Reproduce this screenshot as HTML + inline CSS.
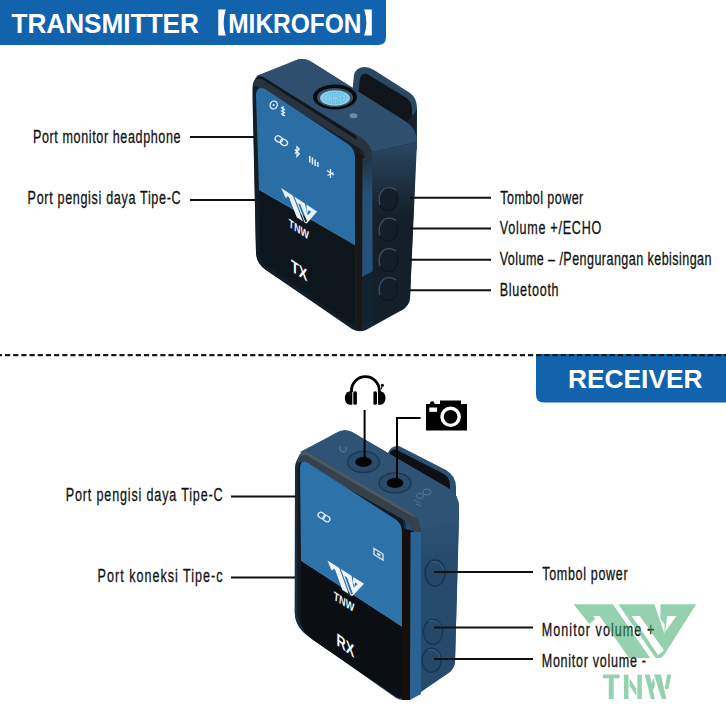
<!DOCTYPE html>
<html><head><meta charset="utf-8">
<style>
html,body{margin:0;padding:0;background:#fff;width:726px;height:726px;overflow:hidden}
svg{display:block}
.lb{font-family:"Liberation Sans",sans-serif;font-size:18.5px;fill:#111;stroke:#111;stroke-width:0.3}
.bn{font-family:"Liberation Sans",sans-serif;font-weight:bold;fill:#fff}
</style></head><body>
<svg width="726" height="726" viewBox="0 0 726 726">
<defs>
<linearGradient id="stripg" x1="0" y1="156" x2="0" y2="195" gradientUnits="userSpaceOnUse"><stop offset="0" stop-color="#1e3245"/><stop offset="1" stop-color="#24527a"/></linearGradient>
<linearGradient id="sidegr" x1="0" y1="515" x2="0" y2="560" gradientUnits="userSpaceOnUse"><stop offset="0" stop-color="#2e5374"/><stop offset="1" stop-color="#264a6b"/></linearGradient>
<linearGradient id="sideg" x1="0" y1="142" x2="0" y2="215" gradientUnits="userSpaceOnUse"><stop offset="0" stop-color="#2a4763"/><stop offset="1" stop-color="#151f2a"/></linearGradient>
<mask id="lgm" maskUnits="userSpaceOnUse" x="-10" y="-10" width="140" height="110">
<rect x="-10" y="-10" width="140" height="110" fill="#fff"/>
<g fill="#000">
<path d="M34.9 -6.3L40.3 -6.3L82.1 53.7L76.7 53.7Z"/>
<path d="M19.7 11.7L25.9 11.7L55.4 53.7L49.1 53.7Z"/>
<path d="M-3.6 15.7L13.4 21.2L25.9 11.7L56.4 57.7L-13.6 57.7Z"/>
<path d="M58.2 11.7L66.2 11.7L90.4 46.2L84.4 50.7Z"/>
<path d="M78.8 -6.3L86.8 -6.3L86.8 14.7L90.9 19.7L90.9 29.7Z"/>
<path d="M93.7 11.7L102.8 11.7L91.6 27.5Z"/>
</g>
</mask>
<g id="logo"><path d="M0 0H122.6L90.8 50.2L87.4 53.7H42.9Z" mask="url(#lgm)"/></g>
</defs>
<!-- top banner -->
<path d="M0 0H386V37Q386 45 378 45H0Z" fill="#1263ae"/>
<text class="bn" x="11.4" y="32.8" font-size="28" textLength="187.6" lengthAdjust="spacingAndGlyphs">TRANSMITTER</text>
<path d="M218.3 9.4H225.8Q221.5 22.4 225.8 35.4H218.3Z" fill="#fff"/>
<text class="bn" x="228.2" y="32.8" font-size="27" textLength="133.3" lengthAdjust="spacingAndGlyphs">MIKROFON</text>
<path d="M371.8 9.4H364.2Q368.5 22.4 364.2 35.4H371.8Z" fill="#fff"/>

<!-- TX DEVICE -->
<g id="tx">
<!-- clip -->
<path d="M352 95L354 75Q356 67 365 67Q369 67 374 70L410 93Q417 98 417 108L417 150L352 112Z" fill="#2b4762"/>
<path d="M358 95L360 79Q361 73 367 74L405 97Q412 101 412 109L412 138L358 104Z" fill="#0f151b"/>
<!-- body silhouette -->
<path d="M253 98L253 91Q253 82 261 78L294 61Q302 57 310 61L407 122L417 110L416 150L410 298Q409 306 402 310L366 330Q359 333 352 329L266 270Q256 263 256 252Z" fill="#17222e"/>
<!-- top face -->
<path d="M256 76L294 61Q302 57 310 61L405 121Q417 128 417 142L372 152Q362 143 352 135Z" fill="#2e4f6e"/>
<!-- front bezel -->
<path d="M252.5 98L252.5 88Q253 76 262 78L352 134Q360 139 360 152L361 322Q361 333 351 327L266 270Q256 263 256 252Z" fill="#131d26"/>
<!-- bevel band -->
<path d="M253 86Q254 75 263 77L357 135Q373 144 373 158L365 158Q365 150 356 146L256 86Z" fill="#28343d"/>
<path d="M255 79Q257 75 263 77L352 133Q357 136 357 140L351 136L262 79Z" fill="#0f171e"/>
<!-- screen blue -->
<path d="M256 96Q256 85 265 89L348 144Q355 149 355 158L355 245L259 190Z" fill="#2b6da5"/>
<!-- lower dark -->
<path d="M259 190L355 245L355 319Q355 326 348 322L270 268Q260 262 260 252Z" fill="#0e161d"/>
<path d="M260 190L355 245" stroke="#5a8fb8" stroke-width="0.8" opacity="0.6"/>
<!-- side bevel strips -->
<path d="M355 152L364 156L362 328L358 330Z" fill="#1d1714"/>
<path d="M362.5 158L373 158L373 322L362 328Z" fill="url(#stripg)"/>
<path d="M362 277L373 271L373 322L362 328Z" fill="#13222f"/>
<!-- right side face -->
<path d="M372 152L417 142L410 298Q409 306 402 310L373 324Z" fill="url(#sideg)"/>
<!-- mic button -->
<ellipse cx="335" cy="97" rx="22" ry="12.5" fill="#080b0e"/>
<ellipse cx="335" cy="97.5" rx="18" ry="9.6" fill="#3a5063"/>
<ellipse cx="335" cy="98" rx="15" ry="7.8" fill="#86d0ee"/>
<g fill="none" stroke="#4f9ac4" stroke-width="1" stroke-dasharray="1 1.2">
<ellipse cx="335" cy="98" rx="11" ry="5.6"/>
<ellipse cx="335" cy="98" rx="7.5" ry="3.8"/>
<ellipse cx="335" cy="98" rx="4" ry="2"/>
</g>
<ellipse cx="353.5" cy="115.8" rx="4" ry="2.5" fill="#6d8ca5"/>
<!-- buttons -->
<ellipse cx="388.5" cy="199" rx="10" ry="12" fill="#141e29"/>
<path d="M380 205Q377 195 384 189Q390 186 396 190" fill="none" stroke="#34536f" stroke-width="1.3"/>
<path d="M397 193Q400 204 392 210Q385 212 380 206" fill="none" stroke="#0e1720" stroke-width="1.3"/>
<ellipse cx="388.5" cy="229.5" rx="10" ry="12" fill="#141e29"/>
<path d="M380 235.5Q377 225.5 384 219.5Q390 216.5 396 220.5" fill="none" stroke="#34536f" stroke-width="1.3"/>
<path d="M397 223.5Q400 234.5 392 240.5Q385 242.5 380 236.5" fill="none" stroke="#0e1720" stroke-width="1.3"/>
<ellipse cx="388.5" cy="260" rx="10" ry="12" fill="#141e29"/>
<path d="M380 266Q377 256 384 250Q390 247 396 251" fill="none" stroke="#34536f" stroke-width="1.3"/>
<path d="M397 254Q400 265 392 271Q385 273 380 267" fill="none" stroke="#0e1720" stroke-width="1.3"/>
<ellipse cx="388.5" cy="289" rx="10" ry="12" fill="#141e29"/>
<path d="M380 295Q377 285 384 279Q390 276 396 280" fill="none" stroke="#34536f" stroke-width="1.3"/>
<path d="M397 283Q400 294 392 300Q385 302 380 296" fill="none" stroke="#0e1720" stroke-width="1.3"/>
<!-- screen icons -->
<g fill="none" stroke="#e6f2fa" stroke-width="1.3">
<ellipse cx="273.7" cy="105" rx="3.5" ry="4" transform="rotate(25 273.7 105)"/>
<g transform="translate(281.3 140.7) rotate(33)"><rect x="-6.8" y="-2.8" width="7.6" height="5.6" rx="2.8"/><rect x="-0.8" y="-2.8" width="7.6" height="5.6" rx="2.8"/></g>
<path d="M294.8 149.5L299.3 153.8L297 156.3V146.8L299.3 149.3L294.8 153.6"/>
<path d="M281 107.5l4 2.5M281 110.5l4 2.5M281 113.5l4 2.5M283 106v10"/>
<path d="M327 170.5l7 4.5M330.5 169v9M327.5 175.5l6-3"/>
</g>
<g fill="#e6f2fa">
<circle cx="273.7" cy="105" r="1.1"/>
<rect x="309" y="156" width="1.5" height="6.5"/><rect x="311.7" y="157.5" width="1.5" height="7"/><rect x="314.4" y="159.5" width="1.5" height="6.5"/><rect x="317.1" y="162" width="1.5" height="5"/>
</g>
<!-- logo -->
<g transform="matrix(0.2928 0.1917 -0.0117 0.3526 281.2 187.9)" fill="#e8f2f9">
<use href="#logo"/>
<text x="28.8" y="94.2" font-family="Liberation Sans" font-weight="bold" font-size="33" textLength="69" lengthAdjust="spacingAndGlyphs">TNW</text>
</g>
<g transform="matrix(0.75 0.5 0 1 291 258.3)"><text x="0" y="12.5" font-family="Liberation Sans" font-weight="bold" font-size="17" fill="#fff">TX</text></g>
</g>

<!-- TX lines -->
<g stroke="#111" stroke-width="2">
<line x1="190" y1="137" x2="254" y2="137"/>
<line x1="190" y1="200" x2="255" y2="200"/>
<line x1="410" y1="197.8" x2="491" y2="197.8"/>
<line x1="410" y1="228.6" x2="491" y2="228.6"/>
<line x1="410" y1="259.7" x2="491" y2="259.7"/>
<line x1="409" y1="290.3" x2="491" y2="290.3"/>
</g>
<text class="lb" transform="scale(0.68 1)" x="48.53" y="142.7" textLength="216.92" lengthAdjust="spacing">Port monitor headphone</text>
<text class="lb" transform="scale(0.68 1)" x="40.59" y="204.5" textLength="225.00" lengthAdjust="spacing">Port pengisi daya Tipe-C</text>
<text class="lb" transform="scale(0.68 1)" x="735.74" y="203.8" textLength="122.06" lengthAdjust="spacing">Tombol power</text>
<text class="lb" transform="scale(0.68 1)" x="734.85" y="234" textLength="149.41" lengthAdjust="spacing">Volume +/ECHO</text>
<text class="lb" transform="scale(0.68 1)" x="734.85" y="265.4" textLength="311.47" lengthAdjust="spacing">Volume – /Pengurangan kebisingan</text>
<text class="lb" transform="scale(0.68 1)" x="734.85" y="296" textLength="86.62" lengthAdjust="spacing">Bluetooth</text>

<!-- dashed line -->


<!-- receiver banner -->
<path d="M536 354H726V402.5H544Q536 402.5 536 394.5Z" fill="#1263ae"/>
<text class="bn" x="568" y="388.4" font-size="26.5" textLength="134.5" lengthAdjust="spacingAndGlyphs">RECEIVER</text>

<line x1="0" y1="355.1" x2="726" y2="355.1" stroke="#1a1a1a" stroke-width="2.2" stroke-dasharray="5.2 2.972" stroke-dashoffset="3.172"/>
<!-- RX DEVICE -->
<g id="rx">
<!-- clip -->
<path d="M386 470L388 453Q391 445 399 446L446 470Q456 476 456 487L456 512L386 474Z" fill="#2c5070"/>
<path d="M388.5 458Q389 449 396 449.5L443 473.5Q450 477.5 450 485L450 497L389 463Z" fill="#0c1015"/>
<!-- body silhouette -->
<path d="M294.8 612L295 468Q295.5 457 305 452L336 433Q344 428 352 432L448 488Q459 494 459 508L455 662Q454 670 447 674L410 698Q403 702 396 698L311 638Q294.8 628 294.8 612Z" fill="#264a6b"/>
<!-- top face -->
<path d="M300 452L336 433Q344 428 352 432L448 488Q459 494 459 508L459 520L421 530Q418 518 404 513Z" fill="#2e5374"/>
<!-- front bezel -->
<path d="M294.8 612L295 468Q295.5 457 305 457L398 512Q406 517 406 528L406 692Q406 703 396 697L311 638Q294.8 628 294.8 612Z" fill="#1b2b3a"/>
<path d="M297.5 612L297.5 470Q298 460 306 460L398 514Q404 518 404 528L404 692Q404 700 396 695L312 636Q297.5 627 297.5 612Z" fill="#111921"/>
<!-- bevel band -->
<path d="M297 463Q298 451 307 452L407 510Q421 518 421 532L413 532Q413 524 404 520L300 462Z" fill="#34414b"/>
<path d="M299 456Q301 451 307 452L407 510Q413 513 416 518L406 513L306 455Z" fill="#4a5963"/>
<!-- screen blue -->
<path d="M300 469Q300 459 308 463L395 519Q402 523 402 533L402 627L301 561Z" fill="#2e72aa"/>
<!-- lower dark -->
<path d="M301 561L402 627L402 694Q402 700 395 696L313 640Q301 632 301 618Z" fill="#0b0f14"/>
<path d="M301 560L402 626" stroke="#4a7fa8" stroke-width="0.8" opacity="0.6"/>
<!-- side strips -->
<path d="M402 528L413 531L410 700L402 700Z" fill="#140e0c"/>
<path d="M410.5 532L421 532L421 694L410 700Z" fill="#2b6294"/>
<!-- right side face -->
<path d="M421 530L459 520L455 662Q454 670 447 674L421 692Z" fill="url(#sidegr)"/>
<!-- top holes -->
<ellipse cx="363.5" cy="462" rx="16" ry="10.5" fill="#2a4b6b" stroke="#1d3852" stroke-width="1.5"/>
<ellipse cx="363.5" cy="462" rx="8.3" ry="5" fill="#030507"/>
<ellipse cx="395" cy="483" rx="16" ry="10" fill="#2a4b6b" stroke="#1d3852" stroke-width="1.5"/>
<ellipse cx="395" cy="483" rx="8.3" ry="5" fill="#030507"/>
<path d="M340 446Q339 451 343 452Q347 452 346 447" fill="none" stroke="#5d86a8" stroke-width="1"/>
<g fill="none" stroke="#4f7898" stroke-width="1">
<ellipse cx="427" cy="492" rx="4" ry="3"/><ellipse cx="420" cy="496" rx="3.5" ry="2.6"/><path d="M414 500l6 3M416 504l5 2"/>
</g>
<!-- buttons -->
<g fill="#254868" stroke="#1a3450" stroke-width="1.5">
<ellipse cx="435" cy="573" rx="10" ry="13"/>
<ellipse cx="433" cy="632" rx="9.6" ry="12.4"/>
<ellipse cx="431.6" cy="660.3" rx="9.6" ry="12"/>
</g>
<g fill="none" stroke="#3b6485" stroke-width="1">
<path d="M431 562Q441 560 444 570"/><path d="M429 621Q439 619 442 629"/><path d="M428 650Q437 648 440 657"/>
</g>
<!-- icons -->
<g fill="none" stroke="#dbeaf6" stroke-width="1.3">
<g transform="translate(324 517) rotate(33)"><rect x="-6.5" y="-2.7" width="7.3" height="5.4" rx="2.7"/><rect x="-0.8" y="-2.7" width="7.3" height="5.4" rx="2.7"/></g>
<path d="M374 548.5L383 554L383 560L374 554.5Z"/>
</g>
<path d="M377 552.5L380.5 554.6V556.6L377 554.5Z" fill="#dbeaf6"/>
<!-- logo -->
<g transform="matrix(0.2977 0.1884 -0.0305 0.3524 327.5 560.6)" fill="#eef4f9">
<use href="#logo"/>
<text x="28.8" y="94.2" font-family="Liberation Sans" font-weight="bold" font-size="33" textLength="69" lengthAdjust="spacingAndGlyphs">TNW</text>
</g>
<g transform="matrix(0.72 0.53 0 1 336.5 632)"><text x="0" y="12.8" font-family="Liberation Sans" font-weight="bold" font-size="17.8" fill="#fff">RX</text></g>
</g>


<!-- headphone & camera icons -->
<g fill="#000">
<path d="M351.5 392V390.5A13.9 13.9 0 0 1 379.3 390.5V392" fill="none" stroke="#000" stroke-width="2.8"/>
<path d="M352.3 391.3H349.5Q344.8 393 344.8 398Q344.8 403.5 349.5 404.8H352.3Z"/>
<rect x="353.3" y="391.3" width="3.6" height="13.5" rx="1.6"/>
<path d="M378 391.3H380.8Q385.5 393 385.5 398Q385.5 403.5 380.8 404.8H378Z"/>
<rect x="373.4" y="391.3" width="3.6" height="13.5" rx="1.6"/>
<circle cx="382.4" cy="385.3" r="1.5"/>
<path d="M382.3 386L381 389.5" stroke="#000" stroke-width="1"/>
<rect x="426" y="404" width="41" height="26.5"/>
<rect x="440" y="400.5" width="21" height="5"/>
<circle cx="432.2" cy="403.5" r="2.3"/>
</g>
<circle cx="450.6" cy="416.8" r="8.6" fill="none" stroke="#fff" stroke-width="3.4"/>
<rect x="429.3" y="407.5" width="7.8" height="4.3" fill="#fff"/>
<g stroke="#000" stroke-width="2" fill="none">
<line x1="364.6" y1="410" x2="364.6" y2="462"/>
<path d="M420.5 418H397V483"/>
</g>
<!-- RX lines -->
<g stroke="#111" stroke-width="2">
<line x1="231" y1="496.4" x2="296" y2="496.4"/>
<line x1="231" y1="577.4" x2="295" y2="577.4"/>
<line x1="434" y1="572" x2="533" y2="572"/>
<line x1="434" y1="627.6" x2="533" y2="627.6"/>
<line x1="434" y1="659" x2="533" y2="659"/>
</g>
<text class="lb" transform="scale(0.68 1)" x="96.76" y="501.3" textLength="230.59" lengthAdjust="spacing">Port pengisi daya Tipe-C</text>
<text class="lb" transform="scale(0.68 1)" x="143.53" y="582.3" textLength="183.82" lengthAdjust="spacing">Port koneksi Tipe-c</text>
<text class="lb" transform="scale(0.68 1)" x="797.36" y="580.4" textLength="125.59" lengthAdjust="spacing">Tombol power</text>
<text class="lb" transform="scale(0.68 1)" x="796.62" y="636.4" textLength="165.59" lengthAdjust="spacing">Monitor volume +</text>
<text class="lb" transform="scale(0.68 1)" x="796.62" y="666.8" textLength="153.39" lengthAdjust="spacing">Monitor volume -</text>

<!-- watermark -->
<mask id="wmm" maskUnits="userSpaceOnUse" x="560" y="590" width="150" height="80">
<rect x="560" y="590" width="150" height="80" fill="#fff"/>
<g fill="#000">
<path d="M608.5 598.0L613.9 598.0L655.7 658.0L650.3 658.0Z"/>
<path d="M593.3 616.0L599.5 616.0L629.0 658.0L622.7 658.0Z"/>
<path d="M570.0 620.0L587.0 625.5L599.5 616.0L630.0 662.0L560.0 662.0Z"/>
<path d="M631.8 616.0L639.8 616.0L664.0 650.5L658.0 655.0Z"/>
<path d="M652.4 598.0L660.4 598.0L660.4 619.0L664.5 624.0L664.5 634.0Z"/>
<path d="M667.3 616.0L676.4 616.0L665.2 631.8Z"/>
</g>
</mask>
<g id="wm" opacity="0.52" mask="url(#wmm)">
<path d="M573.6 604.3H696.2L664.4 654.5L661 658H616.5Z" fill="#38a868"/>
</g>
<g fill="#38a868" opacity="0.52">
<path d="M603 674.6H619.6V678.3H613.7V699H608.8V678.3H603Z"/>
<path d="M623.9 674.6H628.5V699H623.9Z"/>
<path d="M637.4 674.6H641.8V699H637.4Z"/>
<path d="M629.5 678L636.4 688.5V696L629.5 685.5Z"/>
<path d="M644.7 674.6H649.7L654.7 699H650.9Z"/>
<path d="M654 674.6H660.9L666.3 699H661.7Z"/>
<path d="M667 674.6H671.3L668.5 689H664.8Z"/>
<path d="M650.5 686L653.5 678L655 684L652.5 692Z"/>
</g>
</svg>
</body></html>
